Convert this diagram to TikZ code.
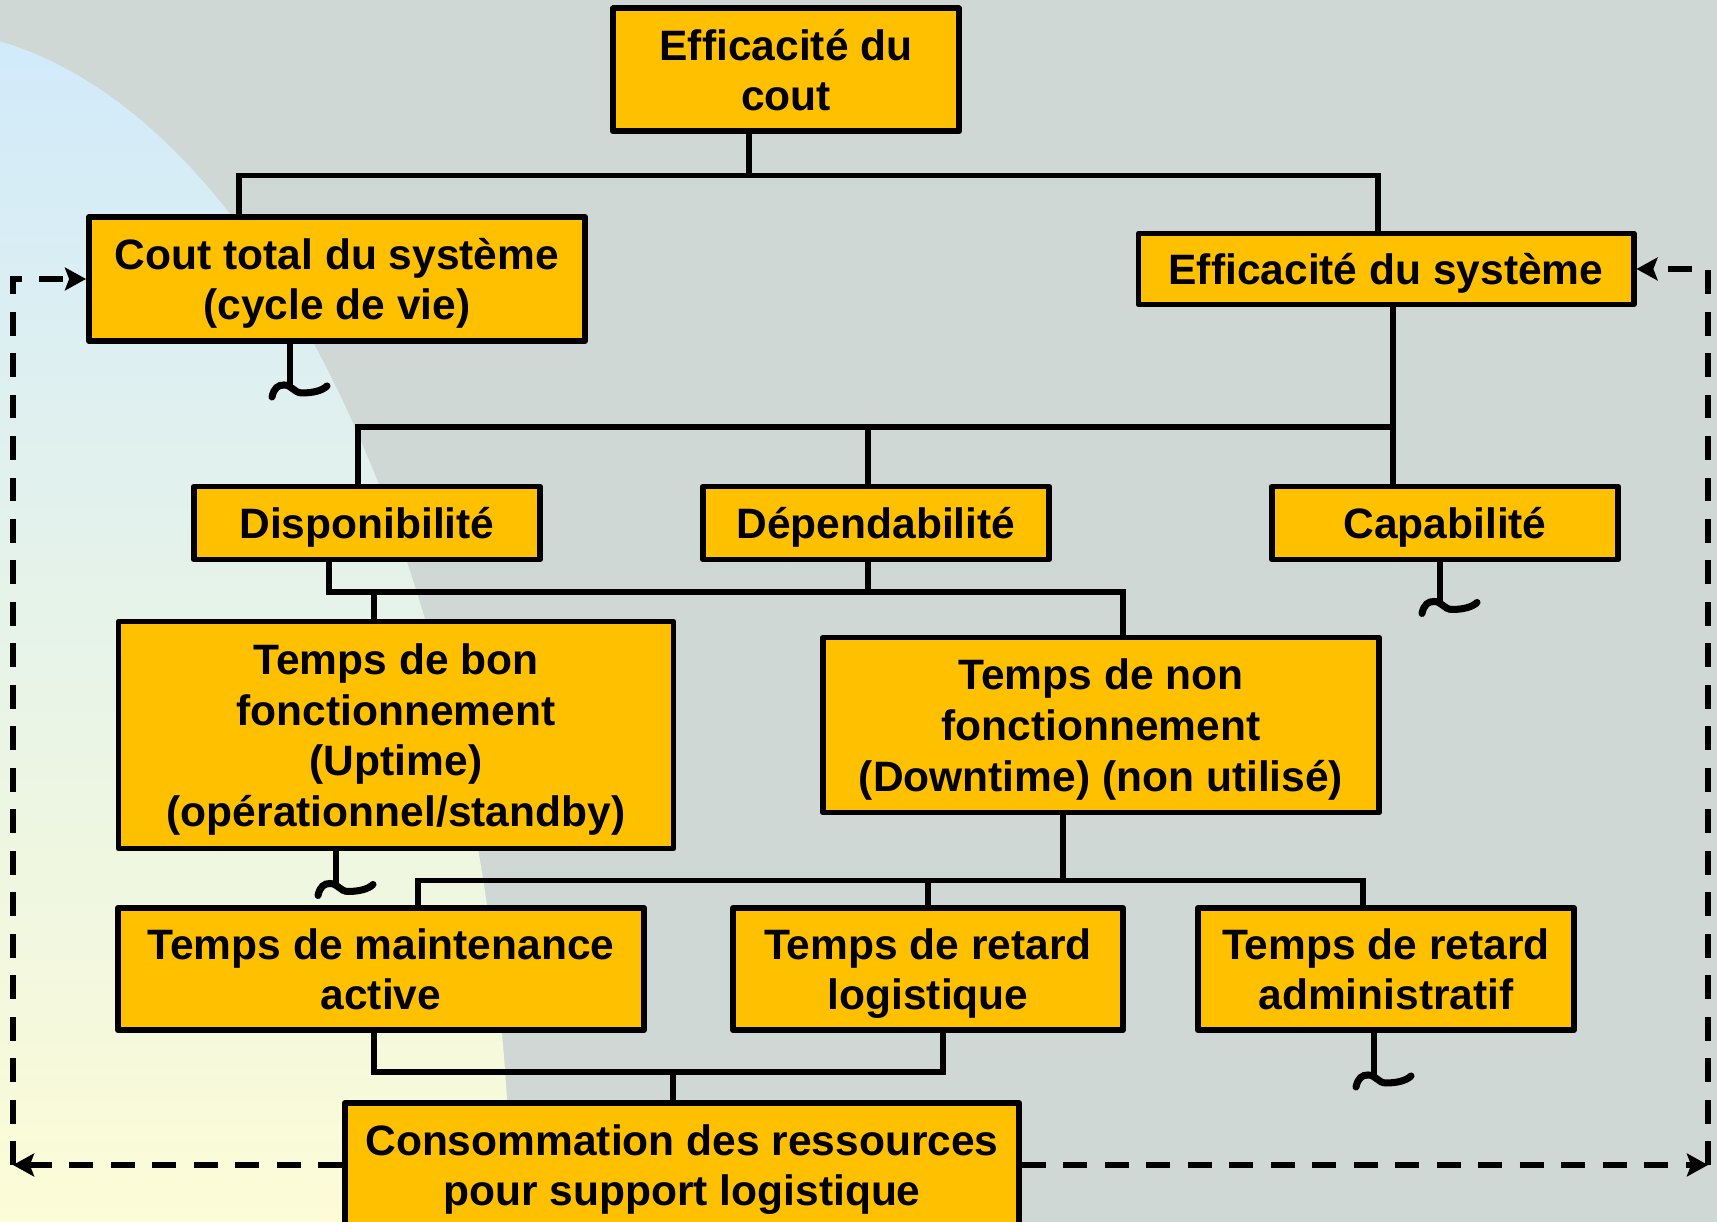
\documentclass[tikz,border=0pt]{standalone}
\usepackage{fontspec}
\setmainfont{Liberation Sans}
\usetikzlibrary{arrows.meta}

\definecolor{fond}{RGB}{207,216,212}
\definecolor{ciel}{RGB}{208,234,252}
\definecolor{creme}{RGB}{252,252,214}
\definecolor{orangebloc}{RGB}{255,192,0}

\tikzset{
  bloc/.style={draw,fill=orangebloc,line width=1.7pt,line join=round,inner sep=0pt,
    align=center,text depth=0pt,font=\fontsize{12.1}{14.4}\selectfont\bfseries},
  liaison/.style={line width=1.5pt},
  pointille/.style={line width=1.5pt,dash pattern=on 6.8pt off 5pt,
    -{Stealth[length=6pt,width=6.5pt,inset=1.2pt]}},
  vague/.pic={
    \draw[line width=2pt,line cap=round] (-0.18,-0.11) .. controls (-0.16,-0.02) and (-0.12,0.01) .. (-0.06,0.01)
      .. controls (0.02,0.01) and (0.04,-0.07) .. (0.12,-0.07)
      .. controls (0.22,-0.07) and (0.32,-0.05) .. (0.37,0.0);
  }
}

\begin{document}
\begin{tikzpicture}
      \useasboundingbox (0,0) rectangle (17.17,-12.22);
      % fond
      \fill[fond] (0,0) rectangle (17.17,-12.22);
      \begin{scope}
        \clip (-0.85,-12.59) ellipse [x radius=5.97,y radius=12.30];
        \shade[top color=ciel,bottom color=creme] (0,0) rectangle (17.17,-12.22);
      \end{scope}

      \node[bloc,minimum width=3.46cm,minimum height=1.23cm] at (7.86,-0.70) (eff cout) {Efficacité du\\cout};
      \node[bloc,minimum width=4.96cm,minimum height=1.24cm] at (3.37,-2.79) (cout sys) {Cout total du système\\(cycle de vie)};
      \node[bloc,minimum width=4.95cm,minimum height=0.71cm] at (13.86,-2.69) (eff sys) {Efficacité du système};
      \node[bloc,minimum width=3.46cm,minimum height=0.73cm] at (3.67,-5.23) (dispo) {Disponibilité};
      \node[bloc,minimum width=3.46cm,minimum height=0.73cm] at (8.76,-5.23) (depend) {Dépendabilité};
      \node[bloc,minimum width=3.46cm,minimum height=0.73cm] at (14.45,-5.23) (capa) {Capabilité};
      \node[bloc,minimum width=5.55cm,minimum height=2.27cm] at (3.96,-7.35) (uptime) {Temps de bon\\fonctionnement\\(Uptime)\\(opérationnel/standby)};
      \node[bloc,minimum width=5.56cm,minimum height=1.75cm] at (11.01,-7.25) (downtime) {Temps de non\\fonctionnement\\(Downtime) (non utilisé)};
      \node[bloc,minimum width=5.26cm,minimum height=1.22cm] at (3.81,-9.69) (maint) {Temps de maintenance\\active};
      \node[bloc,minimum width=3.90cm,minimum height=1.22cm] at (9.28,-9.69) (ret log) {Temps de retard\\logistique};
      \node[bloc,minimum width=3.76cm,minimum height=1.22cm] at (13.86,-9.69) (ret admin) {Temps de retard\\administratif};
      \node[bloc,minimum width=6.74cm,minimum height=1.24cm] at (6.82,-11.65) (conso) {Consommation des ressources\\pour support logistique};

      % liaisons
      \coordinate (b2) at (13.93,-4.27);
      \coordinate (b3) at (8.68,-5.92);
      \coordinate (b5) at (6.73,-10.72);
      \draw[liaison] ([xshift=-0.37cm]eff cout.south) -- ++(0,-0.41) coordinate (b1);
      \draw[liaison] ([xshift=-0.98cm]cout sys.north) |- (b1) -| ([xshift=-0.08cm]eff sys.north);
      \draw[liaison] ([xshift=0.07cm]eff sys.south) -- ([xshift=0.07cm]eff sys.south |- capa.north);
      \draw[liaison] ([xshift=-0.09cm]dispo.north) |- (b2);
      \draw[liaison] ([xshift=-0.08cm]depend.north) -- ([xshift=-0.08cm]depend.north |- b2);
      \draw[liaison] ([xshift=-0.38cm]dispo.south) |- (b3) -| ([xshift=0.22cm]downtime.north);
      \draw[liaison] ([xshift=-0.08cm]depend.south) -- (b3);
      \draw[liaison] ([xshift=-0.22cm]uptime.north) -- ([xshift=-0.22cm]uptime.north |- b3);
      \draw[liaison] ([xshift=-0.38cm]downtime.south) -- ++(0,-0.65) coordinate (b4);
      \draw[liaison] ([xshift=0.37cm]maint.north) |- (b4) -| ([xshift=-0.23cm]ret admin.north);
      \draw[liaison] (ret log.north) -- (ret log.north |- b4);
      \draw[liaison] ([xshift=-0.07cm]maint.south) |- (b5) -| ([xshift=0.15cm]ret log.south);
      \draw[liaison] (b5) -- (b5 |- conso.north);

      % vagues
      \draw[liaison] ([xshift=-0.47cm]cout sys.south) -- ++(0,-0.42) pic {vague};
      \draw[liaison] ([xshift=-0.05cm]capa.south) -- ++(0,-0.40) pic {vague};
      \draw[liaison] ([xshift=-0.60cm]uptime.south) -- ++(0,-0.33) pic {vague};
      \draw[liaison] ([xshift=-0.12cm]ret admin.south) -- ++(0,-0.43) pic {vague};

      % retours en pointille
      \coordinate (coin g) at (0.13,-11.65);
      \coordinate (coin d) at (17.08,-11.65);
      \draw[pointille] (conso.west) -- (coin g);
      \draw[pointille] (coin g) |- (cout sys.west);
      \draw[pointille] (conso.east) -- (coin d);
      \draw[pointille] (coin d) |- (eff sys.east);
    \end{tikzpicture}
\end{document}
